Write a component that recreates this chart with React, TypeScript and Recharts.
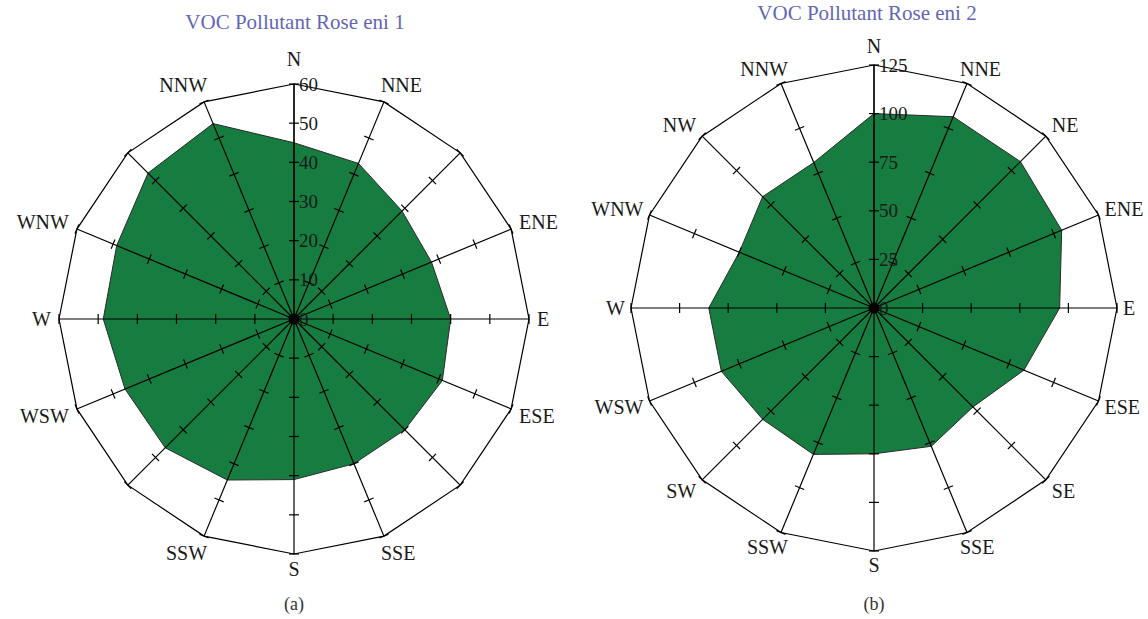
import React from 'react';
import { RadarChart, Radar, PolarAngleAxis, PolarRadiusAxis } from 'recharts';

const directions = ['N', 'NNE', 'NE', 'ENE', 'E', 'ESE', 'SE', 'SSE', 'S', 'SSW', 'SW', 'WSW', 'W', 'WNW', 'NW', 'NNW'];
// panel (a) leaves the four diagonals without a label
const labelsEni1 = ['N', 'NNE', '', 'ENE', 'E', 'ESE', '', 'SSE', 'S', 'SSW', '', 'WSW', 'W', 'WNW', '', 'NNW'];
const labelsEni2 = directions;

const vocEni1 = [45, 43, 39, 38, 40, 41, 40, 40, 41, 44.5, 46.5, 46.7, 48.7, 49, 52.7, 54];
const vocEni2 = [100, 106.5, 106.5, 104.5, 95.5, 83.5, 72, 77, 75, 81.5, 81, 85, 85, 75, 81, 81];

const ticksEni1 = [0, 10, 20, 30, 40, 50, 60];
const ticksEni2 = [0, 25, 50, 75, 100, 125];

const FONT = '"Liberation Serif", "Times New Roman", serif';
const GREEN = '#167c3f';
const TITLE = '#6366b4';

type RoseProps = {
  values: number[];
  labels: string[];
  ticks: number[];
  width: number;
  height: number;
  cx: number;
  cy: number;
  radius: number;
  labelDx: number;
  labelDxV: number;
  labelK: number;
  labelN: number;
  labelS: number;
};

const Rose = (p: RoseProps) => {
  const { values, labels, ticks, width, height, cx, cy, radius } = p;
  const data = directions.map((dir, i) => ({ dir, value: values[i] }));
  const max = ticks[ticks.length - 1];

  const dirTick = (props: any) => {
    const { payload, index } = props;
    const deg = typeof payload?.coordinate === 'number' ? payload.coordinate : 90 - index * 22.5;
    const a = (deg * Math.PI) / 180;
    const cos = Math.cos(a);
    const sin = Math.sin(a);
    const vx = cx + radius * cos;
    const vy = cy - radius * sin;
    // near-vertical names sit closer to the spoke than the side ones
    const dx = Math.abs(cos) < 0.5 ? p.labelDxV : p.labelDx;
    let anchor = 'middle';
    let x = vx;
    if (cos > 0.01) {
      anchor = 'start';
      x = vx + dx;
    } else if (cos < -0.01) {
      anchor = 'end';
      x = vx - dx;
    }
    let y = vy - sin * p.labelK;
    if (sin > 0.99) y = vy - p.labelN;
    else if (sin < -0.99) y = vy + p.labelS;
    return (
      <text x={x} y={y} textAnchor={anchor} dominantBaseline="central" fontFamily={FONT} fontSize={20} fill="#1a1a1a">
        {labels[index]}
      </text>
    );
  };

  // one radius tick -> a small cross mark on each of the 16 spokes at that radius
  const ringTick = (props: any) => {
    const { x, y, payload } = props;
    const v = payload.value;
    if (v === 0) {
      return (
        <g>
          <text x={x + 5} y={y} dominantBaseline="central" fontFamily={FONT} fontSize={19} fill="#1a1a1a">0</text>
          <circle cx={x} cy={y} r={5.5} fill="#000" />
        </g>
      );
    }
    const r = Math.hypot(x - cx, y - cy);
    return (
      <g>
        {directions.map((d, i) => {
          const a = ((90 - i * 22.5) * Math.PI) / 180;
          const mx = cx + r * Math.cos(a);
          const my = cy - r * Math.sin(a);
          const px = Math.sin(a) * 5;
          const py = Math.cos(a) * 5;
          return <line key={d} x1={mx - px} y1={my - py} x2={mx + px} y2={my + py} stroke="#000" strokeWidth={1.2} />;
        })}
        <text x={x + 5} y={y} dominantBaseline="central" fontFamily={FONT} fontSize={19} fill="#1a1a1a">
          {v}
        </text>
      </g>
    );
  };

  return (
    <RadarChart
      width={width}
      height={height}
      data={data}
      cx={cx}
      cy={cy}
      outerRadius={radius}
      startAngle={90}
      endAngle={-270}
      margin={{ top: 0, right: 0, bottom: 0, left: 0 }}
    >
      <Radar
        dataKey="value"
        stroke="#2b2b2b"
        strokeWidth={1}
        fill={GREEN}
        fillOpacity={1}
        dot={false}
        isAnimationActive={false}
      />
      <PolarAngleAxis
        dataKey="dir"
        axisLineType="polygon"
        axisLine={{ stroke: '#000', strokeWidth: 1.2 }}
        orientation="inner"
        tickSize={radius}
        tickLine={{ stroke: '#000', strokeWidth: 1.2 }}
        tick={dirTick}
      />
      <PolarRadiusAxis
        angle={90}
        type="number"
        domain={[0, max]}
        ticks={ticks}
        tickCount={ticks.length}
        axisLine={{ stroke: '#000', strokeWidth: 1.2 }}
        tick={ringTick}
      />
    </RadarChart>
  );
};

const App = () => {
  return (
    <div style={{ position: 'absolute', left: 0, top: 0, width: 1148, height: 619, background: '#fff', fontFamily: FONT }}>
      <div style={{ position: 'absolute', left: 0, top: 0 }}>
        <Rose
          values={vocEni1}
          labels={labelsEni1}
          ticks={ticksEni1}
          width={580}
          height={619}
          cx={294}
          cy={319}
          radius={235}
          labelDx={8}
          labelDxV={-3}
          labelK={18}
          labelN={25}
          labelS={15}
        />
      </div>
      <div style={{ position: 'absolute', left: 580, top: 0 }}>
        <Rose
          values={vocEni2}
          labels={labelsEni2}
          ticks={ticksEni2}
          width={568}
          height={619}
          cx={294}
          cy={308}
          radius={243}
          labelDx={6}
          labelDxV={-7}
          labelK={16}
          labelN={19}
          labelS={14}
        />
      </div>
      <div style={{ position: 'absolute', left: 95, top: 12, width: 400, textAlign: 'center', fontSize: 21, lineHeight: '21px', color: TITLE }}>
        VOC Pollutant Rose eni 1
      </div>
      <div style={{ position: 'absolute', left: 667, top: 3, width: 400, textAlign: 'center', fontSize: 21, lineHeight: '21px', color: TITLE }}>
        VOC Pollutant Rose eni 2
      </div>
      <div style={{ position: 'absolute', left: 244, top: 595, width: 100, textAlign: 'center', fontSize: 18, lineHeight: '18px', color: '#333' }}>
        (a)
      </div>
      <div style={{ position: 'absolute', left: 824, top: 595, width: 100, textAlign: 'center', fontSize: 18, lineHeight: '18px', color: '#333' }}>
        (b)
      </div>
    </div>
  );
};

export default App;
